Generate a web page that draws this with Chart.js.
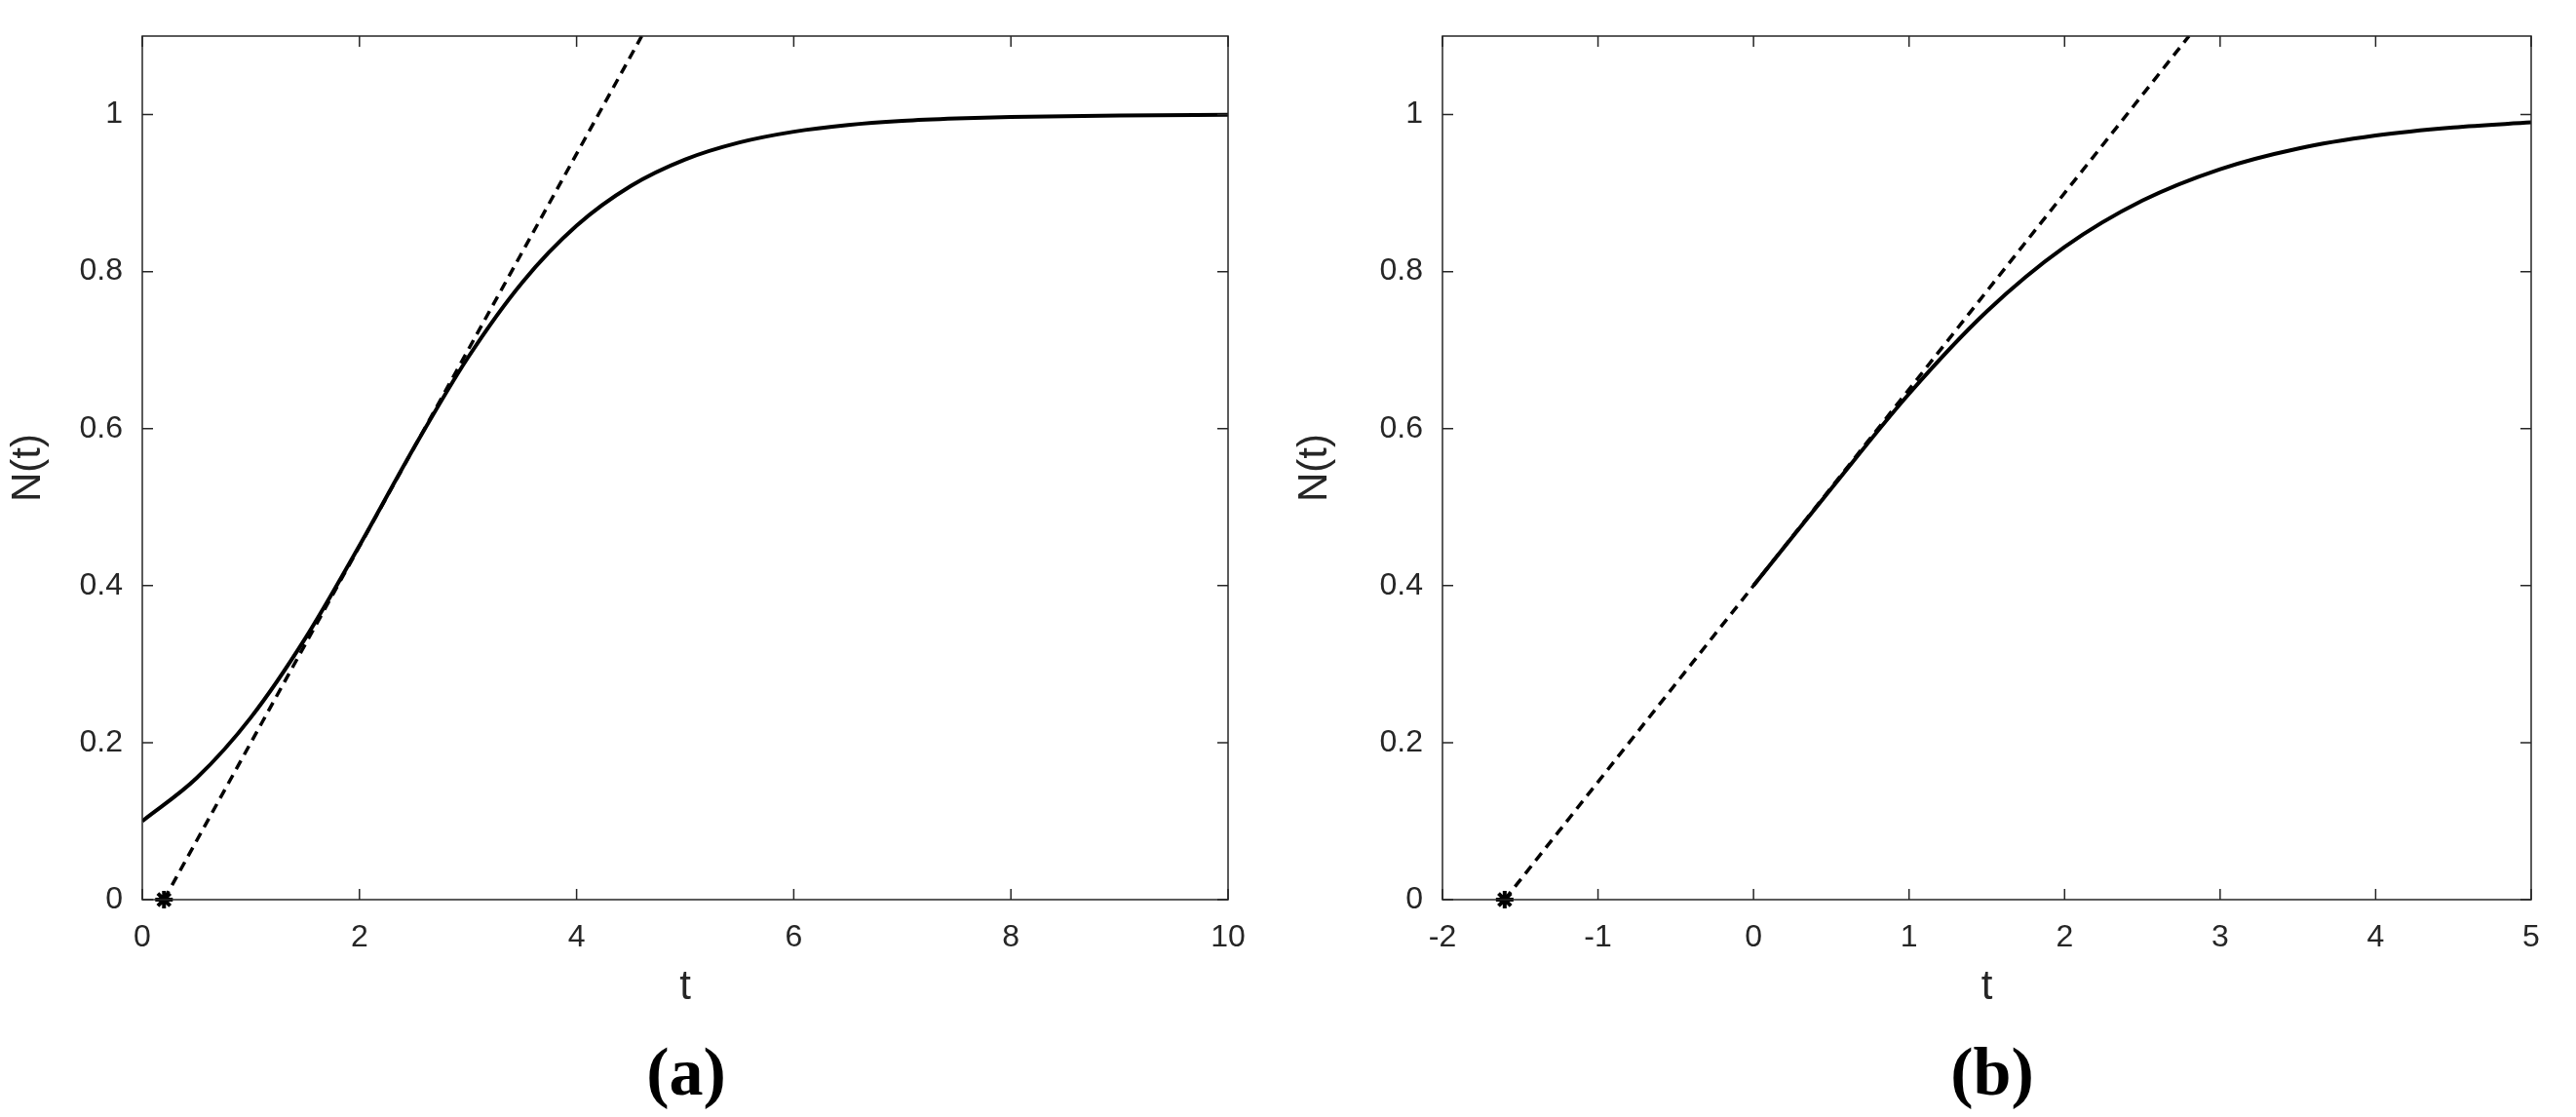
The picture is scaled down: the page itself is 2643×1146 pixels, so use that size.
<!DOCTYPE html>
<html><head><meta charset="utf-8">
<script src="https://cdn.jsdelivr.net/npm/chart.js@4"></script>
<style>
body{margin:0;background:#fff;width:2643px;height:1146px;position:relative;overflow:hidden}
canvas{position:absolute;top:0}
.lab{position:absolute;top:1060px;font:bold 70px "Liberation Serif",serif;width:200px;text-align:center}
</style></head><body>
<div style="position:absolute;left:0;top:0;width:1320px;height:1146px"><canvas id="ca"></canvas></div>
<div style="position:absolute;left:1320px;top:0;width:1323px;height:1146px"><canvas id="cb"></canvas></div>
<div class="lab" style="left:604px">(a)</div>
<div class="lab" style="left:1944px">(b)</div>
<script>
const tA=[0,0.5,1,1.5,2,2.5,3,3.5,4,4.5,5,5.5,6,6.5,7,7.5,8,9,10];
const nA=[0.1,0.1548,0.232,0.3325,0.4509,0.5751,0.6906,0.7863,0.8585,0.9091,0.9428,0.9645,0.9782,0.9867,0.9919,0.995,0.997,0.9989,0.9996];
const tanA=[[0.2,0],[4.6,1.1]];
const tB=[0,0.5,1,1.5,2,2.5,3,3.5,4,4.5,5];
const nB=[0.4,0.5236,0.6444,0.7492,0.8313,0.8904,0.9305,0.9567,0.9733,0.9836,0.99];
const tanB=[[-1.6,0],[2.8,1.1]];
const yTicks=[0,0.2,0.4,0.6,0.8,1];
const font={family:'"Liberation Sans",Arial,sans-serif',size:32};
const inTicks={id:'inTicks',afterDraw(c){const x=c.scales.x,y=c.scales.y,g=c.ctx,a=c.chartArea;g.save();g.strokeStyle='#262626';g.lineWidth=1.5;g.beginPath();
x.ticks.forEach(t=>{const p=x.getPixelForValue(t.value);g.moveTo(p,a.bottom);g.lineTo(p,a.bottom-11);g.moveTo(p,a.top);g.lineTo(p,a.top+11);});
y.ticks.forEach(t=>{const p=y.getPixelForValue(t.value);g.moveTo(a.left,p);g.lineTo(a.left+11,p);g.moveTo(a.right,p);g.lineTo(a.right-11,p);});
g.stroke();g.lineWidth=1.5;g.strokeRect(a.left,a.top,a.right-a.left,a.bottom-a.top);g.restore();}};
function make(id,ts,ns,tan,xmin,xmax,yw,pr){
 new Chart(document.getElementById(id),{type:'scatter',
 data:{datasets:[
  {data:ts.map((t,i)=>({x:t,y:ns[i]})),showLine:true,borderColor:'#000',borderWidth:4,pointRadius:0,cubicInterpolationMode:'monotone'},
  {data:tan.map(p=>({x:p[0],y:p[1]})),showLine:true,borderColor:'#000',borderWidth:3.5,borderDash:[10,7],pointRadius:0},
  {data:[{x:tan[0][0],y:0}],pointStyle:'star',radius:9,borderColor:'#000',borderWidth:4,backgroundColor:'#000',clip:false}
 ]},
 options:{responsive:true,maintainAspectRatio:false,animation:false,
  layout:{padding:{left:0,top:37,right:pr,bottom:103}},
  plugins:{legend:{display:false},tooltip:{enabled:false}},
  scales:{
   x:{type:'linear',min:xmin,max:xmax,ticks:{stepSize:xmax>8?2:1,color:'#262626',font,padding:12},
      grid:{display:false},border:{display:false},
      title:{display:true,text:'t',color:'#262626',font:{...font,size:42},padding:{top:0}},
      afterFit(s){s.height=120;}},
   y:{min:0,max:1.1,ticks:{stepSize:0.2,color:'#262626',font,padding:12,callback:v=>String(+v.toFixed(1))},
      afterBuildTicks(s){s.ticks=yTicks.map(v=>({value:v}));},
      grid:{display:false},border:{display:false},
      title:{display:true,text:'N(t)',color:'#262626',font:{...font,size:42},padding:{bottom:8}},
      afterFit(s){s.width=yw;}}
  }},plugins:[inTicks]});
}
make('ca',tA,nA,tanA,0,10,146,60);
make('cb',tB,nB,tanB,-2,5,160,46);
</script></body></html>
